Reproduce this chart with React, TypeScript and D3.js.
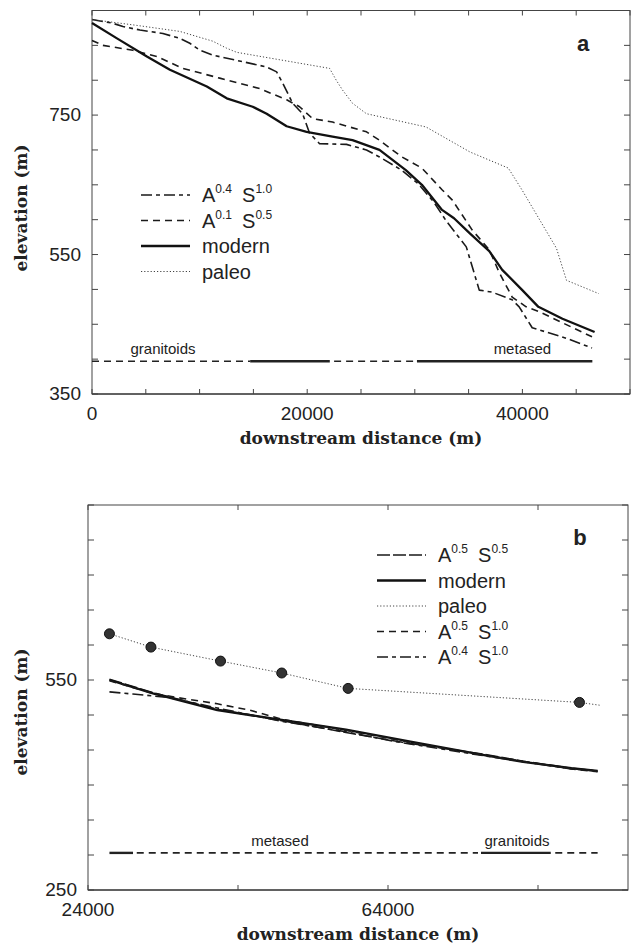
import React, { useEffect, useRef } from "react";
import * as d3 from "d3";

type Pt = [number, number];

// ---- panel a: downstream distance (m) vs elevation (m)
const aModern: Pt[] = [
  [0, 882], [2320, 860], [5100, 834], [7240, 815], [10670, 791], [12520, 774],
  [14935, 762], [16230, 752], [18090, 734], [19940, 726], [22355, 719], [24210, 714],
  [26715, 700], [29165, 671], [30660, 650], [32530, 614], [33645, 602], [35140, 580],
  [36920, 555], [38125, 528], [39990, 499], [41485, 475], [43725, 458], [46710, 439],
];
const aPaleo: Pt[] = [
  [0, 887], [4000, 879], [8160, 870], [11225, 856], [12500, 846], [13450, 840],
  [22080, 817], [22700, 800], [23280, 786], [24210, 767], [25500, 752], [31040, 733],
  [35140, 697], [38690, 674], [39990, 642], [43165, 559], [44100, 513], [47090, 494],
];
const aA04S10: Pt[] = [
  [0, 887], [1855, 882], [2880, 877], [4450, 872], [6590, 867], [8160, 860], [9090, 853],
  [10020, 843], [11225, 836], [16230, 819], [17160, 812], [17720, 796], [18645, 767],
  [19570, 752], [20220, 724], [21150, 709], [23650, 708], [25510, 700], [26715, 690],
  [28790, 671], [30290, 652], [31780, 625], [32930, 598], [34785, 561], [35990, 499],
  [37200, 496], [39050, 485], [39700, 475], [40910, 445], [41560, 442], [44060, 430],
  [46470, 416],
];
const aA01S05: Pt[] = [
  [0, 857], [1020, 850], [3800, 843], [6030, 834], [8440, 817], [11870, 803], [15580, 788],
  [18090, 772], [19290, 762], [20500, 745], [22355, 740], [25510, 726], [26715, 714],
  [28790, 690], [30660, 674], [32530, 643], [33490, 628], [35340, 585], [36920, 557],
  [37850, 524], [39050, 489], [40350, 475], [41560, 468], [46470, 432],
];
const aRockFrom = [0, 14700, 22500, 30200];
const aRockTo = [14700, 22100, 30000, 46500];
const aRockType = ["granitoids", "metased", "granitoids", "metased"];
const aRockLevel = 397;
const aRockLabels = ["granitoids", "metased"];
const aRockLabelX = [6600, 40000];

const aXTicks = [0, 20000, 40000];
const aYTicks = [350, 550, 750];

// ---- panel b
const bModern: Pt[] = [
  [26860, 550], [32650, 531], [41240, 507], [49830, 493], [58400, 479], [67000, 462],
  [76650, 443], [82010, 433], [88450, 424], [91950, 420],
];
const bPaleo: Pt[] = [
  [26860, 616], [32390, 597], [41670, 577], [49830, 560], [58680, 538], [89530, 518], [92210, 514],
];
const bPaleoMarked = [true, true, true, true, true, true, false];
const bA05S05: Pt[] = [
  [26860, 551], [32650, 532], [41240, 508], [49830, 492], [58400, 475], [65920, 461],
  [69150, 456], [76650, 444], [82010, 434], [88450, 424], [91950, 420],
];
const bA05S10: Pt[] = [
  [26860, 549], [32650, 531], [35870, 525], [41240, 516], [45530, 507], [49830, 494],
  [58400, 478], [67000, 461], [76650, 443], [88450, 423], [91950, 419],
];
const bA04S10: Pt[] = [
  [26860, 533], [29970, 530], [34800, 525], [41240, 510], [49830, 491], [58400, 476],
  [65000, 462], [76650, 442], [88450, 423], [91950, 420],
];
const bRockFrom = [26860, 30500, 76400, 86300];
const bRockTo = [30000, 76000, 85700, 91950];
const bRockType = ["metased", "granitoids", "metased", "granitoids"];
const bRockLevel = 303;
const bRockLabels = ["metased", "granitoids"];
const bRockLabelX = [49600, 81200];

const bXTicks = [24000, 64000];
const bYTicks = [250, 550];

const lineStyles: Record<string, { dash: string | null; width: number; color: string }> = {
  solid: { dash: null, width: 2.3, color: "#111" },
  dotted: { dash: "1.2,2", width: 1, color: "#444" },
  dashed: { dash: "7,5", width: 1.6, color: "#1a1a1a" },
  longdash: { dash: "13,3", width: 1.6, color: "#1a1a1a" },
  dashdot: { dash: "11,4,4,4", width: 1.6, color: "#1a1a1a" },
};

type Series = { label: string; pts: Pt[]; style: string };

const seriesA: Series[] = [
  { label: "A^0.4 S^1.0", pts: aA04S10, style: "dashdot" },
  { label: "A^0.1 S^0.5", pts: aA01S05, style: "dashed" },
  { label: "modern", pts: aModern, style: "solid" },
  { label: "paleo", pts: aPaleo, style: "dotted" },
];
const seriesB: Series[] = [
  { label: "A^0.5 S^0.5", pts: bA05S05, style: "longdash" },
  { label: "modern", pts: bModern, style: "solid" },
  { label: "paleo", pts: bPaleo, style: "dotted" },
  { label: "A^0.5 S^1.0", pts: bA05S10, style: "dashed" },
  { label: "A^0.4 S^1.0", pts: bA04S10, style: "dashdot" },
];

const SANS = "'Liberation Sans', Arial, sans-serif";
const SERIF = "'DejaVu Serif', 'Liberation Serif', serif";

function writeLabel(text: d3.Selection<SVGTextElement, unknown, null, undefined>, s: string) {
  // "A^0.4 S^1.0" -> A with superscript 0.4, S with superscript 1.0
  const parts = s.split(/(\^[0-9.]+)/).filter((p) => p !== "");
  let raised = false;
  parts.forEach((p) => {
    if (p.startsWith("^")) {
      text.append("tspan").attr("dy", -9).attr("font-size", 12).text(p.slice(1));
      raised = true;
    } else {
      text.append("tspan").attr("dy", raised ? 9 : 0).text(p.replace(" ", "\u2002"));
      raised = false;
    }
  });
}

function Chart() {
  const ref = useRef<SVGSVGElement>(null);

  useEffect(() => {
    const svg = d3.select(ref.current);
    svg.selectAll("*").remove();

    const panels = [
      {
        tag: "a",
        xDom: [0, 50000], xRange: [92, 630], yDom: [350, 900], yRange: [394, 10.5],
        xMinor: 5000, yMinor: 50, xTicks: aXTicks, yTicks: aYTicks, series: seriesA,
        rockFrom: aRockFrom, rockTo: aRockTo, rockType: aRockType, rockLevel: aRockLevel,
        rockStyle: { granitoids: "7,5", metased: null } as Record<string, string | null>,
        rockLabels: aRockLabels, rockLabelX: aRockLabelX,
        legendX: 141, legendY: 195, legendStep: 25.5,
        yTitleY: 208, tagX: 583, tagY: 51,
      },
      {
        tag: "b",
        xDom: [24000, 96000], xRange: [88, 628], yDom: [250, 800], yRange: [890, 505],
        xMinor: 20000, yMinor: 50, xTicks: bXTicks, yTicks: bYTicks, series: seriesB,
        rockFrom: bRockFrom, rockTo: bRockTo, rockType: bRockType, rockLevel: bRockLevel,
        rockStyle: { granitoids: "7,5", metased: null } as Record<string, string | null>,
        rockLabels: bRockLabels, rockLabelX: bRockLabelX,
        legendX: 377, legendY: 555, legendStep: 25.5,
        yTitleY: 712, tagX: 580, tagY: 545,
      },
    ];

    panels.forEach((p) => {
      const x = d3.scaleLinear().domain(p.xDom).range(p.xRange);
      const y = d3.scaleLinear().domain(p.yDom).range(p.yRange);
      const g = svg.append("g");
      const [x0, x1] = p.xRange;
      const [y0, y1] = p.yRange;

      // frame
      g.append("rect")
        .attr("x", x0).attr("y", y1)
        .attr("width", x1 - x0).attr("height", y0 - y1)
        .attr("fill", "none").attr("stroke", "#444").attr("stroke-width", 1);
      g.append("line")
        .attr("x1", x0).attr("x2", x1).attr("y1", y0).attr("y2", y0)
        .attr("stroke", "#222").attr("stroke-width", 1.2);

      // inward ticks, all four sides
      const xt = d3.range(p.xDom[0], p.xDom[1] + 1, p.xMinor);
      const yt = d3.range(p.yDom[0], p.yDom[1] + 1, p.yMinor);
      xt.forEach((v) => {
        g.append("line").attr("x1", x(v)).attr("x2", x(v)).attr("y1", y0).attr("y2", y0 - 5)
          .attr("stroke", "#444");
        g.append("line").attr("x1", x(v)).attr("x2", x(v)).attr("y1", y1).attr("y2", y1 + 5)
          .attr("stroke", "#444");
      });
      yt.forEach((v) => {
        g.append("line").attr("x1", x0).attr("x2", x0 + 6).attr("y1", y(v)).attr("y2", y(v))
          .attr("stroke", "#444");
        g.append("line").attr("x1", x1).attr("x2", x1 - 6).attr("y1", y(v)).attr("y2", y(v))
          .attr("stroke", "#444");
      });

      // tick labels
      p.xTicks.forEach((v) => {
        g.append("text").attr("x", x(v)).attr("y", y0 + 26)
          .attr("text-anchor", "middle").attr("font-family", SANS).attr("font-size", 19)
          .attr("fill", "#222").text(String(v));
      });
      p.yTicks.forEach((v) => {
        g.append("text").attr("x", x0 - 11).attr("y", y(v) + 6)
          .attr("text-anchor", "end").attr("font-family", SANS).attr("font-size", 19)
          .attr("fill", "#222").text(String(v));
      });

      // axis titles
      g.append("text").attr("x", (x0 + x1) / 2).attr("y", y0 + 50)
        .attr("text-anchor", "middle").attr("font-family", SERIF).attr("font-weight", "bold")
        .attr("font-size", 17).attr("fill", "#222").text("downstream distance (m)");
      g.append("text").attr("transform", `translate(27,${p.yTitleY}) rotate(-90)`)
        .attr("text-anchor", "middle").attr("font-family", SERIF).attr("font-weight", "bold")
        .attr("font-size", 17).attr("fill", "#222").text("elevation (m)");

      // panel tag
      g.append("text").attr("x", p.tagX).attr("y", p.tagY).attr("text-anchor", "middle")
        .attr("font-family", SANS).attr("font-weight", "bold").attr("font-size", 22)
        .attr("fill", "#222").text(p.tag);

      // lithology line
      p.rockFrom.forEach((f, i) => {
        const dash = p.rockStyle[p.rockType[i]];
        g.append("line")
          .attr("x1", x(f)).attr("x2", x(p.rockTo[i]))
          .attr("y1", y(p.rockLevel)).attr("y2", y(p.rockLevel))
          .attr("stroke", "#222").attr("stroke-width", dash ? 1.6 : 2.4)
          .attr("stroke-dasharray", dash);
      });
      p.rockLabels.forEach((t, i) => {
        g.append("text").attr("x", x(p.rockLabelX[i])).attr("y", y(p.rockLevel) - 7)
          .attr("text-anchor", "middle").attr("font-family", SANS).attr("font-size", 15)
          .attr("fill", "#222").text(t);
      });

      // profiles
      const line = d3.line<Pt>().x((d) => x(d[0])).y((d) => y(d[1]));
      p.series.forEach((s) => {
        const st = lineStyles[s.style];
        g.append("path").attr("d", line(s.pts)).attr("fill", "none")
          .attr("stroke", st.color).attr("stroke-width", st.width)
          .attr("stroke-dasharray", st.dash).attr("stroke-linejoin", "round");
      });
      if (p.tag === "b") {
        bPaleo.forEach((d, i) => {
          if (!bPaleoMarked[i]) return;
          g.append("circle").attr("cx", x(d[0])).attr("cy", y(d[1])).attr("r", 5)
            .attr("fill", "#333").attr("stroke", "#111");
        });
      }

      // legend
      p.series.forEach((s, i) => {
        const st = lineStyles[s.style];
        const ly = p.legendY + i * p.legendStep;
        g.append("line").attr("x1", p.legendX).attr("x2", p.legendX + 49)
          .attr("y1", ly).attr("y2", ly).attr("stroke", st.color)
          .attr("stroke-width", st.width).attr("stroke-dasharray", st.dash);
        const t = g.append("text").attr("x", p.legendX + 61).attr("y", ly + 7)
          .attr("font-family", SANS).attr("font-size", 20).attr("fill", "#222");
        writeLabel(t as any, s.label);
      });
    });
  }, []);

  return (
    <svg
      ref={ref}
      width={631}
      height={945}
      style={{ position: "absolute", left: 0, top: 0, background: "#fff" }}
    />
  );
}

export default function App() {
  return <Chart />;
}
